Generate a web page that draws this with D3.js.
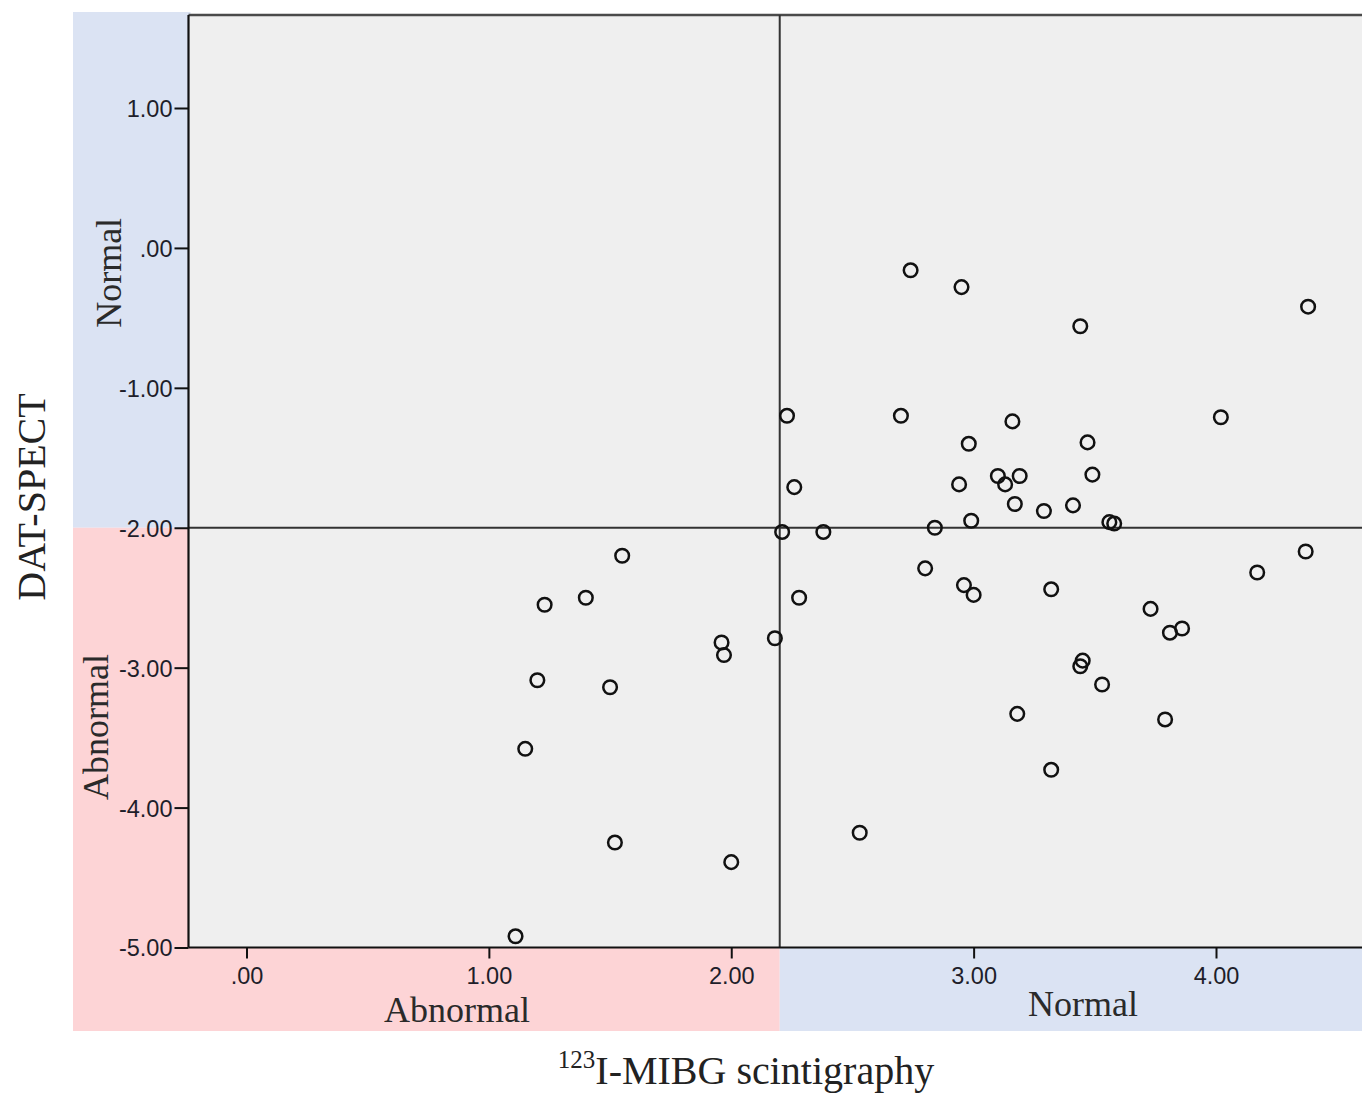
<!DOCTYPE html>
<html>
<head>
<meta charset="utf-8">
<script src="https://cdn.jsdelivr.net/npm/d3@7/dist/d3.min.js"></script>
<style>
html,body{margin:0;padding:0;background:#fff;overflow:hidden;}
svg{display:block;}
</style>
</head>
<body>
<svg id="chart" width="1362" height="1095"></svg>
<script>
// ---- Data ----
const mibg = [2.74,2.95,4.38,3.44,2.23,2.70,4.02,3.16,2.98,3.47,2.26,2.94,3.10,3.13,3.19,3.49,3.17,3.29,3.41,2.99,3.56,3.58,2.84,2.21,2.38,1.55,4.37,2.80,4.17,2.96,3.00,3.32,1.23,1.40,2.28,3.73,2.18,1.96,1.97,3.81,3.86,3.45,3.44,1.20,1.50,3.53,3.18,3.79,1.15,3.32,2.53,1.52,2.00,1.11];
const dat  = [-0.16,-0.28,-0.42,-0.56,-1.20,-1.20,-1.21,-1.24,-1.40,-1.39,-1.71,-1.69,-1.63,-1.69,-1.63,-1.62,-1.83,-1.88,-1.84,-1.95,-1.96,-1.97,-2.00,-2.03,-2.03,-2.20,-2.17,-2.29,-2.32,-2.41,-2.48,-2.44,-2.55,-2.50,-2.50,-2.58,-2.79,-2.82,-2.91,-2.75,-2.72,-2.95,-2.99,-3.09,-3.14,-3.12,-3.33,-3.37,-3.58,-3.73,-4.18,-4.25,-4.39,-4.92];
const xTicks = [0,1,2,3,4];
const yTicks = [1,0,-1,-2,-3,-4,-5];
const xCut = 2.2;   // MIBG cut-off (reference line)
const yCut = -2;    // DAT-SPECT cut-off (reference line)
const xTitleSup = "123";
const xTitleMain = "I-MIBG scintigraphy";
const yTitle = "DAT-SPECT";
const zoneLabels = ["Abnormal","Normal"];

// ---- Layout ----
const W = 1362, H = 1095;
const plotLeft = 188.5, plotTop = 15, plotBottom = 947.5, plotRight = 1400;
const bandLeft = 73, bandTop = 12, bandBottom = 1031;
const BLUE = "#dbe3f3", PINK = "#fdd4d6", PLOTBG = "#efefef";

const x = d3.scaleLinear().domain([0,4]).range([246.5,1216]);
const y = d3.scaleLinear().domain([1,-5]).range([108,947.5]);

const svg = d3.select("#chart");

// Coloured zones (overlapping same-colour rects avoid seams)
svg.append("rect").attr("x",bandLeft).attr("y",bandTop)
  .attr("width",plotLeft-bandLeft+2).attr("height",y(yCut)-bandTop).attr("fill",BLUE);
svg.append("rect").attr("x",bandLeft).attr("y",y(yCut))
  .attr("width",plotLeft-bandLeft+2).attr("height",bandBottom-y(yCut)).attr("fill",PINK);
svg.append("rect").attr("x",bandLeft).attr("y",plotBottom)
  .attr("width",x(xCut)-bandLeft).attr("height",bandBottom-plotBottom).attr("fill",PINK);
svg.append("rect").attr("x",x(xCut)).attr("y",plotBottom)
  .attr("width",W-x(xCut)).attr("height",bandBottom-plotBottom).attr("fill",BLUE);

// Plot background
svg.append("rect").attr("x",plotLeft).attr("y",plotTop)
  .attr("width",plotRight-plotLeft).attr("height",plotBottom-plotTop).attr("fill",PLOTBG);

// Frame top
svg.append("line").attr("x1",plotLeft).attr("x2",plotRight).attr("y1",plotTop).attr("y2",plotTop)
  .attr("stroke","#4a4a4a").attr("stroke-width",2.5);

// Reference lines
svg.append("line").attr("x1",x(xCut)).attr("x2",x(xCut)).attr("y1",plotTop).attr("y2",plotBottom)
  .attr("stroke","#333").attr("stroke-width",2);
svg.append("line").attr("x1",plotLeft).attr("x2",plotRight).attr("y1",y(yCut)).attr("y2",y(yCut))
  .attr("stroke","#333").attr("stroke-width",2);

// Axes
const fmt = v => d3.format(".2f")(v).replace("\u2212","-").replace(/^0\./,".").replace(/^-0\./,"-.");
const tickFont = "Liberation Sans, Arial, sans-serif";
const yAxis = d3.axisLeft(y).tickValues(yTicks).tickFormat(fmt).tickSize(14).tickPadding(2);
const gy = svg.append("g").attr("transform",`translate(${plotLeft},0)`).call(yAxis);
gy.select(".domain").attr("stroke","#111").attr("stroke-width",2.2).attr("d",`M0,${plotTop}V${plotBottom}`);
gy.selectAll(".tick line").attr("stroke","#111").attr("stroke-width",2);
gy.selectAll(".tick text").attr("font-family",tickFont)
  .attr("font-size",23.5).attr("fill","#1e1e2a").attr("dy","0.36em");

const xAxis = d3.axisBottom(x).tickValues(xTicks).tickFormat(fmt).tickSize(11).tickPadding(9);
const gx = svg.append("g").attr("transform",`translate(0,${plotBottom})`).call(xAxis);
gx.select(".domain").attr("stroke","#111").attr("stroke-width",2.2).attr("d",`M${plotLeft},0H${plotRight}`);
gx.selectAll(".tick line").attr("stroke","#111").attr("stroke-width",2);
gx.selectAll(".tick text").attr("font-family",tickFont)
  .attr("font-size",23.5).attr("fill","#1e1e2a");

// Points
svg.append("g").selectAll("circle").data(mibg.map((v,i)=>[v,dat[i]])).join("circle")
  .attr("cx",d=>x(d[0])).attr("cy",d=>y(d[1])).attr("r",6.8)
  .attr("fill","none").attr("stroke","#111").attr("stroke-width",2.5);

// Zone labels
const serif = "Liberation Serif, Times New Roman, serif";
svg.append("text").attr("transform",`translate(121,${(bandTop+y(yCut))/2+3}) rotate(-90)`)
  .attr("text-anchor","middle").attr("font-family",serif).attr("font-size",36).attr("fill","#2a2a2a")
  .text(zoneLabels[1]);
svg.append("text").attr("transform",`translate(108,727) rotate(-90)`)
  .attr("text-anchor","middle").attr("font-family",serif).attr("font-size",36).attr("fill","#2a2a2a")
  .text(zoneLabels[0]);
svg.append("text").attr("x",457).attr("y",1022).attr("text-anchor","middle")
  .attr("font-family",serif).attr("font-size",36).attr("fill","#2a2a2a").text(zoneLabels[0]);
svg.append("text").attr("x",1083).attr("y",1016).attr("text-anchor","middle")
  .attr("font-family",serif).attr("font-size",36).attr("fill","#2a2a2a").text(zoneLabels[1]);

// Axis titles
const xt = svg.append("text").attr("x",746).attr("y",1084).attr("text-anchor","middle")
  .attr("font-family",serif).attr("font-size",40).attr("fill","#222");
xt.append("tspan").attr("font-size",25).attr("dy",-16).text(xTitleSup);
xt.append("tspan").attr("dy",16).text(xTitleMain);

svg.append("text").attr("transform",`translate(45,497) rotate(-90)`).attr("text-anchor","middle")
  .attr("font-family",serif).attr("font-size",40).attr("fill","#222").text(yTitle);
</script>
</body>
</html>
